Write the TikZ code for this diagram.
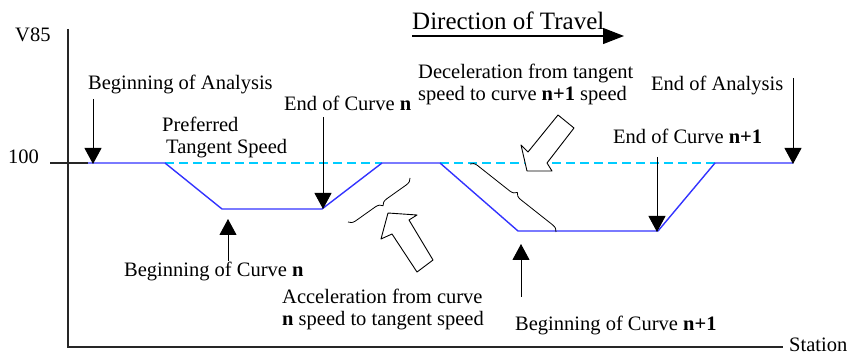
\documentclass[tikz,border=0pt]{standalone}
\usepackage{fontspec}
\setmainfont{Liberation Serif}
\usetikzlibrary{arrows.meta,decorations.pathreplacing}
\definecolor{lineblue}{RGB}{51,51,255}
\definecolor{dashcyan}{RGB}{0,204,255}
\begin{document}
\begin{tikzpicture}[x=1pt,y=-1pt,
  lbl/.style={font=\fontsize{20.5}{24}\selectfont, inner sep=0pt, anchor=base west},
  biglbl/.style={font=\fontsize{25}{29}\selectfont, inner sep=0pt, anchor=base west},
  axis/.style={draw=black!85, line width=1.3pt},
  pointer/.style={draw, line width=1pt, -{Triangle[width=17pt,length=16pt]}},
  speed/.style={draw=lineblue, line width=1.4pt, line join=round},
  tangent/.style={draw=dashcyan, line width=1.3pt, dash pattern=on 9pt off 5pt},
  blockarrow/.style={draw, fill=white, line width=0.9pt, line join=round},
  bracestyle/.style={draw, line width=0.8pt, decorate, decoration={brace, amplitude=7pt}}]
\useasboundingbox (0,0) rectangle (852,355);

% axes
\coordinate (ytop) at (68,29);
\coordinate (orig) at (68,347);
\coordinate (xend) at (783,347);
\coordinate (tickL) at (50,163);
\coordinate (tickR) at (88,163);
\draw[axis] (ytop) -- (orig) -- (xend);
\draw[axis] (tickL) -- (tickR);
\node[lbl] (v85) at (15,41.5) {V85};
\node[lbl] (hund) at (8,163.5) {100};
\node[lbl] (station) at (789,351.5) {Station};

% speed profile
\coordinate (s0) at (88,163);
\coordinate (s1) at (165,163);
\coordinate (s2) at (222,209);
\coordinate (s3) at (322,209);
\coordinate (s4) at (382,163);
\coordinate (s5) at (440,163);
\coordinate (s6) at (518,231);
\coordinate (s7) at (658,231);
\coordinate (s8) at (715,163);
\coordinate (s9) at (793,163);
\draw[tangent] (s1) -- (s4);
\draw[tangent] (s5) -- (s8);
\draw[speed] (s0) -- (s1) -- (s2) -- (s3) -- (s4) -- (s5) -- (s6) -- (s7) -- (s8) -- (s9);

% direction of travel
\node[biglbl] (dir) at (412,29.5) {Direction of Travel};
\coordinate (dirS) at (412,36);
\coordinate (dirE) at (624,36);
\draw[line width=1.2pt, -{Triangle[width=16pt,length=21pt]}] (dirS) -- (dirE);

% labels
\node[lbl] (boa) at (88,89.5) {Beginning of Analysis};
\node[lbl] (pref1) at (162,131.5) {Preferred};
\node[lbl] (pref2) at (166,153.5) {Tangent Speed};
\node[lbl] (eocn) at (284,110.5) {End of Curve \textbf{n}};
\node[lbl] (dec1) at (418,78.5) {Deceleration from tangent};
\node[lbl] (dec2) at (418,100.5) {speed to curve \textbf{n+1} speed};
\node[lbl] (eoa) at (651,90.5) {End of Analysis};
\node[lbl] (eocn1) at (613,143.5) {End of Curve \textbf{n+1}};
\node[lbl] (bocn) at (124,276.5) {Beginning of Curve \textbf{n}};
\node[lbl] (acc1) at (282,303.5) {Acceleration from curve};
\node[lbl] (acc2) at (282,325.5) {\textbf{n} speed to tangent speed};
\node[lbl] (bocn1) at (515,330.5) {Beginning of Curve \textbf{n+1}};

% pointer arrows
\coordinate (a1s) at (93,99);   \coordinate (a1e) at (93,164);
\coordinate (a2s) at (323,117); \coordinate (a2e) at (323,209);
\coordinate (a3s) at (793,78);  \coordinate (a3e) at (793,164);
\coordinate (a4s) at (657,157); \coordinate (a4e) at (657,232);
\coordinate (a5s) at (228,261); \coordinate (a5e) at (228,219);
\coordinate (a6s) at (521,297); \coordinate (a6e) at (521,244);
\draw[pointer] (a1s) -- (a1e);
\draw[pointer] (a2s) -- (a2e);
\draw[pointer] (a3s) -- (a3e);
\draw[pointer] (a4s) -- (a4e);
\draw[pointer] (a5s) -- (a5e);
\draw[pointer] (a6s) -- (a6e);

% braces
\coordinate (b1s) at (470,164); \coordinate (b1e) at (556,232);
\coordinate (b2s) at (410,178); \coordinate (b2e) at (348,222);
\draw[bracestyle] (b1s) -- (b1e);
\draw[bracestyle] (b2s) -- (b2e);

% block arrows
\draw[blockarrow] (558,115) -- (574,128) -- (547,163) -- (552,171) -- (527,171) -- (521,145) -- (528,152) -- cycle;
\draw[blockarrow] (388,213) -- (417,215) -- (409,220) -- (433,260) -- (417,272) -- (392,234) -- (381,239) -- cycle;
\end{tikzpicture}
\end{document}
